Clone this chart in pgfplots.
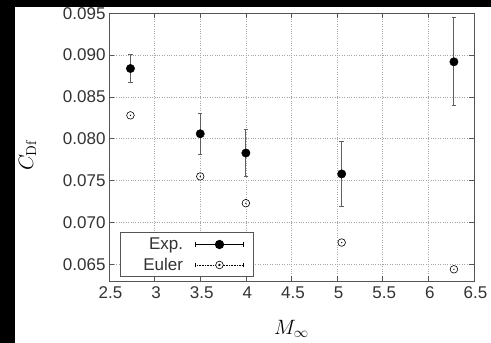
\documentclass[border=0pt]{standalone}
\usepackage[no-math]{fontspec}
\setmainfont{Liberation Sans}
\usepackage{pgfplots}
\pgfplotsset{compat=1.18}
\pgfdeclareplotmark{odot}{%
 \pgfpathcircle{\pgfpointorigin}{\pgfplotmarksize}\pgfusepathqstroke
 \pgfpathcircle{\pgfpointorigin}{0.7pt}\pgfusepathqfill}
\definecolor{axgray}{HTML}{555555}
\definecolor{txtgray}{HTML}{333333}
\definecolor{errgray}{HTML}{606060}
\begin{document}
\begin{tikzpicture}[baseline={(0pt,-62pt)}]
\fill[white] (-109pt,-62pt) rectangle (382pt,281pt);
\begin{axis}[
 at={(0,0)}, anchor=south west, scale only axis, width=365pt, height=267.7pt,
 xmin=2.5, xmax=6.5, ymin=0.063, ymax=0.095,
 xtick={2.5,3,3.5,4,4.5,5,5.5,6,6.5},
 ytick={0.065,0.07,0.075,0.08,0.085,0.09,0.095},
 scaled y ticks=false,
 yticklabel style={/pgf/number format/fixed, /pgf/number format/fixed zerofill, /pgf/number format/precision=3},
 /pgf/number format/assume math mode=true,
 tick label style={font=\fontsize{17}{20}\selectfont, text=txtgray},
 xticklabel style={xshift=1.5pt, yshift=-2pt},
 axis line style={axgray, line width=0.8pt},
 major tick length=5pt, tick style={axgray, line width=0.6pt},
 grid=major, grid style={dotted, gray!70, line width=0.6pt},
 xlabel={$M_\infty$}, ylabel={$C_{\mathrm{Df}}$},
 label style={font=\fontsize{22}{26}\selectfont},
 x label style={at={(axis description cs:0.5,0)}, anchor=center, yshift=-48pt},
 y label style={at={(axis description cs:0,0.5)}, anchor=center, yshift=81.5pt, xshift=-8pt},
 legend plot pos=right, legend cell align=right,
 legend style={at={(axis description cs:0,0)}, anchor=south west, xshift=11pt, yshift=3.7pt,
   draw=axgray, line width=0.8pt, font=\fontsize{17}{20}\selectfont, text=txtgray,
   nodes={inner sep=0pt}, inner xsep=10pt, inner ysep=5pt, row sep=7pt, column sep=12pt},
]
\addplot[black, only marks, mark=*, mark size=4.2pt, forget plot,
  error bars/.cd, y dir=both, y explicit,
  error bar style={errgray, line width=0.9pt},
  error mark options={rotate=90, mark size=2.2pt, errgray, line width=0.9pt}]
 coordinates {
 (2.735,0.0884) +- (0,0.0017)
 (3.50,0.0806) +- (0,0.00245)
 (4.00,0.0783) +- (0,0.0028)
 (5.05,0.0758) +- (0,0.0039)
 (6.28,0.0892) +- (0,0.00525)
 };
\addplot[black, only marks, mark=odot, mark size=3.8pt, line width=0.6pt, forget plot]
 coordinates {
 (2.735,0.0828)
 (3.50,0.0755)
 (4.00,0.0723)
 (5.05,0.0676)
 (6.28,0.0644)
 };
\addlegendimage{legend image code/.code={
   \draw[black, line width=0.8pt] (0pt,0pt) -- (48pt,0pt);
   \draw[black, line width=0.8pt] (0pt,-2.2pt) -- (0pt,2.2pt) (48pt,-2.2pt) -- (48pt,2.2pt);
   \fill[black] (24pt,0pt) circle (4.2pt);}}
\addlegendentry{Exp.}
\addlegendimage{legend image code/.code={
   \draw[black, densely dotted, line width=0.6pt] (0pt,0pt) -- (48pt,0pt);
   \draw[black, line width=0.6pt] (0pt,-2.2pt) -- (0pt,2.2pt) (48pt,-2.2pt) -- (48pt,2.2pt);
   \draw[black, fill=white, line width=0.6pt] (24pt,0pt) circle (3.8pt);
   \fill[black] (24pt,0pt) circle (0.7pt);}}
\addlegendentry{\hspace*{13pt}Euler}
\end{axis}
\fill[black] (-109pt,-62pt) rectangle (-94pt,281pt);
\fill[black] (-109pt,274pt) rectangle (382pt,281pt);
\pgfresetboundingbox
\useasboundingbox (-109pt,-62pt) rectangle (382pt,281pt);
\end{tikzpicture}
\end{document}
